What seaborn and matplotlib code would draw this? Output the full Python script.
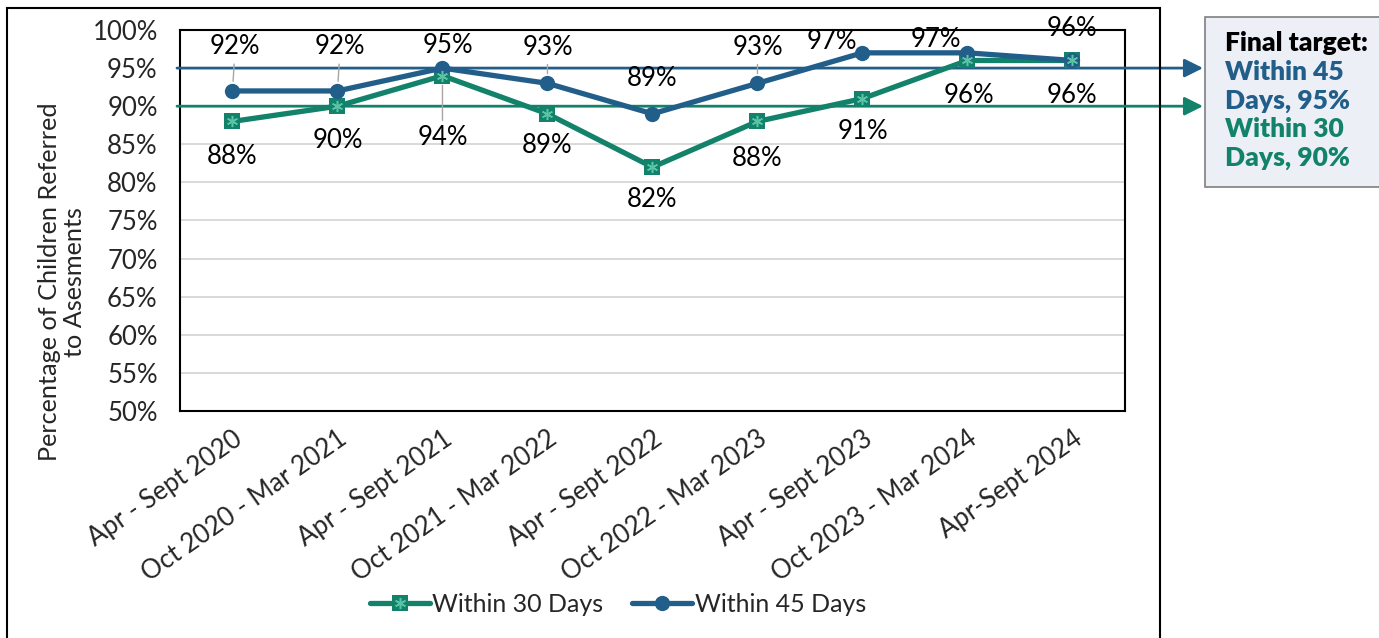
import numpy as np
import pandas as pd
import matplotlib
matplotlib.use("Agg")
import matplotlib.pyplot as plt
import seaborn as sns
from matplotlib.patches import Rectangle
from matplotlib.lines import Line2D
from matplotlib.legend_handler import HandlerTuple
from matplotlib.transforms import blended_transform_factory

# ---- data -------------------------------------------------------------
periods = ["Apr - Sept 2020", "Oct 2020 - Mar 2021", "Apr - Sept 2021",
           "Oct 2021 - Mar 2022", "Apr - Sept 2022", "Oct 2022 - Mar 2023",
           "Apr - Sept 2023", "Oct 2023 - Mar 2024", "Apr-Sept 2024"]
within_30 = [88, 90, 94, 89, 82, 88, 91, 96, 96]
within_45 = [92, 92, 95, 93, 89, 93, 97, 97, 96]
series_names = ["Within 30 Days", "Within 45 Days"]
target_30 = 90
target_45 = 95
y_ticks = list(range(50, 101, 5))

# ---- style ------------------------------------------------------------
BLUE = "#225E8A"
GREEN = "#12826A"
STAR = "#5CC4A6"
GRID = "#D9D9D9"
LEADER = "#A6A6A6"
LABEL_FONT = ["Lato", "DejaVu Sans"]

sns.set_style("white")
plt.rcParams["font.family"] = LABEL_FONT

df = pd.DataFrame({
    "period": periods * 2,
    "value": within_30 + within_45,
    "series": [series_names[0]] * len(periods) + [series_names[1]] * len(periods),
})

fig = plt.figure(figsize=(13.79, 6.38), dpi=100)
ax = fig.add_axes([0.1305, 0.3558, 0.6853, 0.5972])

# outer chart frame
fig.patches.append(Rectangle((0.0051, -0.05), 0.8361, 1.0375, transform=fig.transFigure,
                             fill=False, edgecolor="black", lw=1.5, zorder=0))

ax.set_axisbelow(True)
ax.yaxis.grid(True, color=GRID, lw=1.4)

sns.lineplot(data=df, x="period", y="value", hue="series", style="series",
             markers={series_names[0]: "s", series_names[1]: "o"}, dashes=False,
             palette={series_names[0]: GREEN, series_names[1]: BLUE},
             lw=3.8, markersize=11, markeredgewidth=0, legend=False, sort=False,
             ax=ax, zorder=4)
# asterisk inside the square markers
ax.plot(np.arange(len(periods)), within_30, ls="none", marker=(6, 2, 0), ms=8,
        mec=STAR, mew=1.1, zorder=5)

ax.set_xlim(-0.5, len(periods) - 0.5)
ax.set_ylim(50, 100)
ax.set_yticks(y_ticks)
ax.set_yticklabels([f"{t}%" for t in y_ticks], fontsize=18.5)
ax.set_xticks(np.arange(len(periods)))
ax.set_xticklabels(periods, rotation=35, ha="right", rotation_mode="anchor", fontsize=18.5)
ax.tick_params(axis="x", direction="in", length=5, width=1.2, color="black", pad=11)
ax.tick_params(axis="y", length=0, pad=16)
ax.set_xlabel("")
ax.set_ylabel("")
for s in ax.spines.values():
    s.set_visible(True)
    s.set_color("black")
    s.set_linewidth(1.5)

fig.text(0.045, 0.558, "Percentage of Children Referred\nto Asesments", rotation=90,
         ha="center", va="center", fontsize=18.2, linespacing=1.15)

# ---- data labels ------------------------------------------------------
off45 = [(2, 44, True), (2, 44, True), (5, 23, False), (0, 36, True), (0, 35, False),
         (0, 36, True), (-31, 11, False), (-32, 13, False), (-1, 32, False)]
off30 = [(0, -35, False), (0, -34, False), (0, -62, True), (0, -32, False), (0, -32, False),
         (0, -37, False), (0, -33, False), (1, -35, False), (-1, -35, False)]

for vals, offs in ((within_45, off45), (within_30, off30)):
    for i, (v, (dx, dy, lead)) in enumerate(zip(vals, offs)):
        ap = None
        if lead:
            ap = dict(arrowstyle="-", color=LEADER, lw=1, shrinkA=1, shrinkB=7,
                      relpos=(0.5, 0.0) if dy > 0 else (0.5, 1.0))
        ax.annotate(f"{v}%", xy=(i, v), xytext=(dx, dy), textcoords="offset pixels",
                    ha="center", va="center", fontsize=18.5, color="black",
                    arrowprops=ap, zorder=6, annotation_clip=False)

# ---- target lines with arrows -----------------------------------------
trans = blended_transform_factory(fig.transFigure, ax.transData)
for tgt, col in ((target_45, BLUE), (target_30, GREEN)):
    ax.annotate("", xy=(1203 / 1379, tgt), xycoords=trans,
                xytext=(177 / 1379, tgt), textcoords=trans,
                arrowprops=dict(arrowstyle="-|>", color=col, lw=2, mutation_scale=28,
                                shrinkA=0, shrinkB=0),
                annotation_clip=False, zorder=3)

# ---- target callout box -----------------------------------------------
fig.patches.append(Rectangle((1205 / 1379, 1 - 187 / 638), 0.2, 170 / 638,
                             transform=fig.transFigure, facecolor="#ECEFF5",
                             edgecolor="#7F7F7F", lw=1.2, zorder=1))
box_lines = [("Final target:", "black"), ("Within 45", BLUE), (f"Days, {target_45}%", BLUE),
             ("Within 30", GREEN), (f"Days, {target_30}%", GREEN)]
for k, (txt, col) in enumerate(box_lines):
    fig.text(1225 / 1379, 1 - (43 + 28.8 * k) / 638, txt, ha="left", va="center",
             fontsize=19, fontweight="heavy", color=col)

# ---- legend -----------------------------------------------------------
h30 = (Line2D([], [], color=GREEN, lw=3.8, marker="s", ms=11, mew=0),
       Line2D([], [], ls="none", marker=(6, 2, 0), ms=8, mec=STAR, mew=1.1))
h45 = Line2D([], [], color=BLUE, lw=3.8, marker="o", ms=11, mew=0)
fig.legend([h30, h45], series_names, loc="center", bbox_to_anchor=(0.448, 0.053),
           ncol=2, frameon=False, handlelength=2.4, handletextpad=0.1,
           columnspacing=1.15, handler_map={tuple: HandlerTuple(ndivide=1)},
           prop={"family": LABEL_FONT, "size": 18})

fig.savefig("out.png", dpi=100)
